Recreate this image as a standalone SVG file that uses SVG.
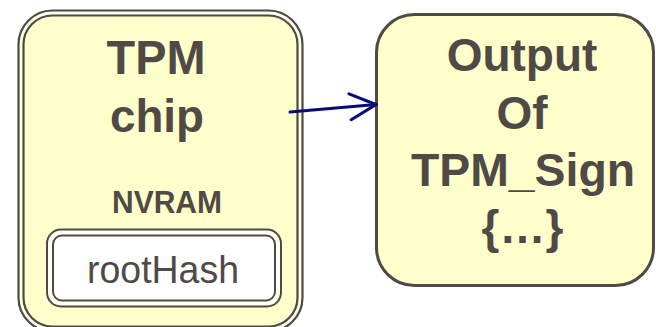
<svg xmlns="http://www.w3.org/2000/svg" width="656" height="327" viewBox="0 0 656 327">
  <defs>
    <style>
      .frame { fill: #FFFFEA; stroke: #4F4A46; stroke-width: 2.2; }
      .frame-in { fill: #FFFFCC; stroke: #4F4A46; stroke-width: 2.2; }
      .slot { fill: #FFFFF4; stroke: #4F4A46; stroke-width: 2; }
      .slot-in { fill: #FFFFFF; stroke: #4F4A46; stroke-width: 2; }
      .box { fill: #FFFFCC; stroke: #4F4A46; stroke-width: 3; }
      .label { font-family: "Liberation Sans", Arial, sans-serif; fill: #4F4A46; text-anchor: middle; }
      .bold { font-weight: bold; }
      .link { fill: none; stroke: #0A0A78; stroke-width: 3; stroke-linecap: round; }
    </style>
    <marker id="open-arrow" viewBox="0 0 30 30" refX="28" refY="15" markerWidth="30" markerHeight="30" markerUnits="userSpaceOnUse" orient="auto">
      <path d="M2,2 L28,15 L2,28" fill="none" stroke="#0A0A78" stroke-width="3" stroke-linecap="round" stroke-linejoin="miter"/>
    </marker>
  </defs>

  <!-- TPM chip with its NVRAM slot -->
  <g id="tpm-chip">
    <rect class="frame" x="18.5" y="10.5" width="284" height="321" rx="34" ry="34"/>
    <rect class="frame-in" x="23.5" y="15.5" width="274" height="311" rx="29" ry="29"/>
    <text class="label bold" x="156" y="74" font-size="48" textLength="99" lengthAdjust="spacingAndGlyphs">TPM</text>
    <text class="label bold" x="157" y="132" font-size="46" textLength="94" lengthAdjust="spacingAndGlyphs">chip</text>
    <text class="label bold" x="167" y="213" font-size="32" textLength="110" lengthAdjust="spacingAndGlyphs">NVRAM</text>
  </g>

  <g id="root-hash">
    <rect class="slot" x="47" y="229.5" width="234" height="77" rx="14" ry="14"/>
    <rect class="slot-in" x="53" y="235.5" width="222" height="65" rx="9" ry="9"/>
    <text class="label" x="163" y="283" font-size="38" textLength="152" lengthAdjust="spacingAndGlyphs">rootHash</text>
  </g>

  <!-- Signed output -->
  <g id="sign-output">
    <rect class="box" x="376.5" y="14.5" width="277" height="271" rx="38" ry="38"/>
    <text class="label bold" x="522" y="71" font-size="46">Output</text>
    <text class="label bold" x="522" y="128.5" font-size="46">Of</text>
    <text class="label bold" x="523" y="186" font-size="46" textLength="224" lengthAdjust="spacingAndGlyphs">TPM_Sign</text>
    <text class="label bold" x="522.5" y="243" font-size="46">{…}</text>
  </g>

  <g id="connectors">
    <path class="link" d="M290,112 L376,104.5" marker-end="url(#open-arrow)"/>
  </g>
</svg>
